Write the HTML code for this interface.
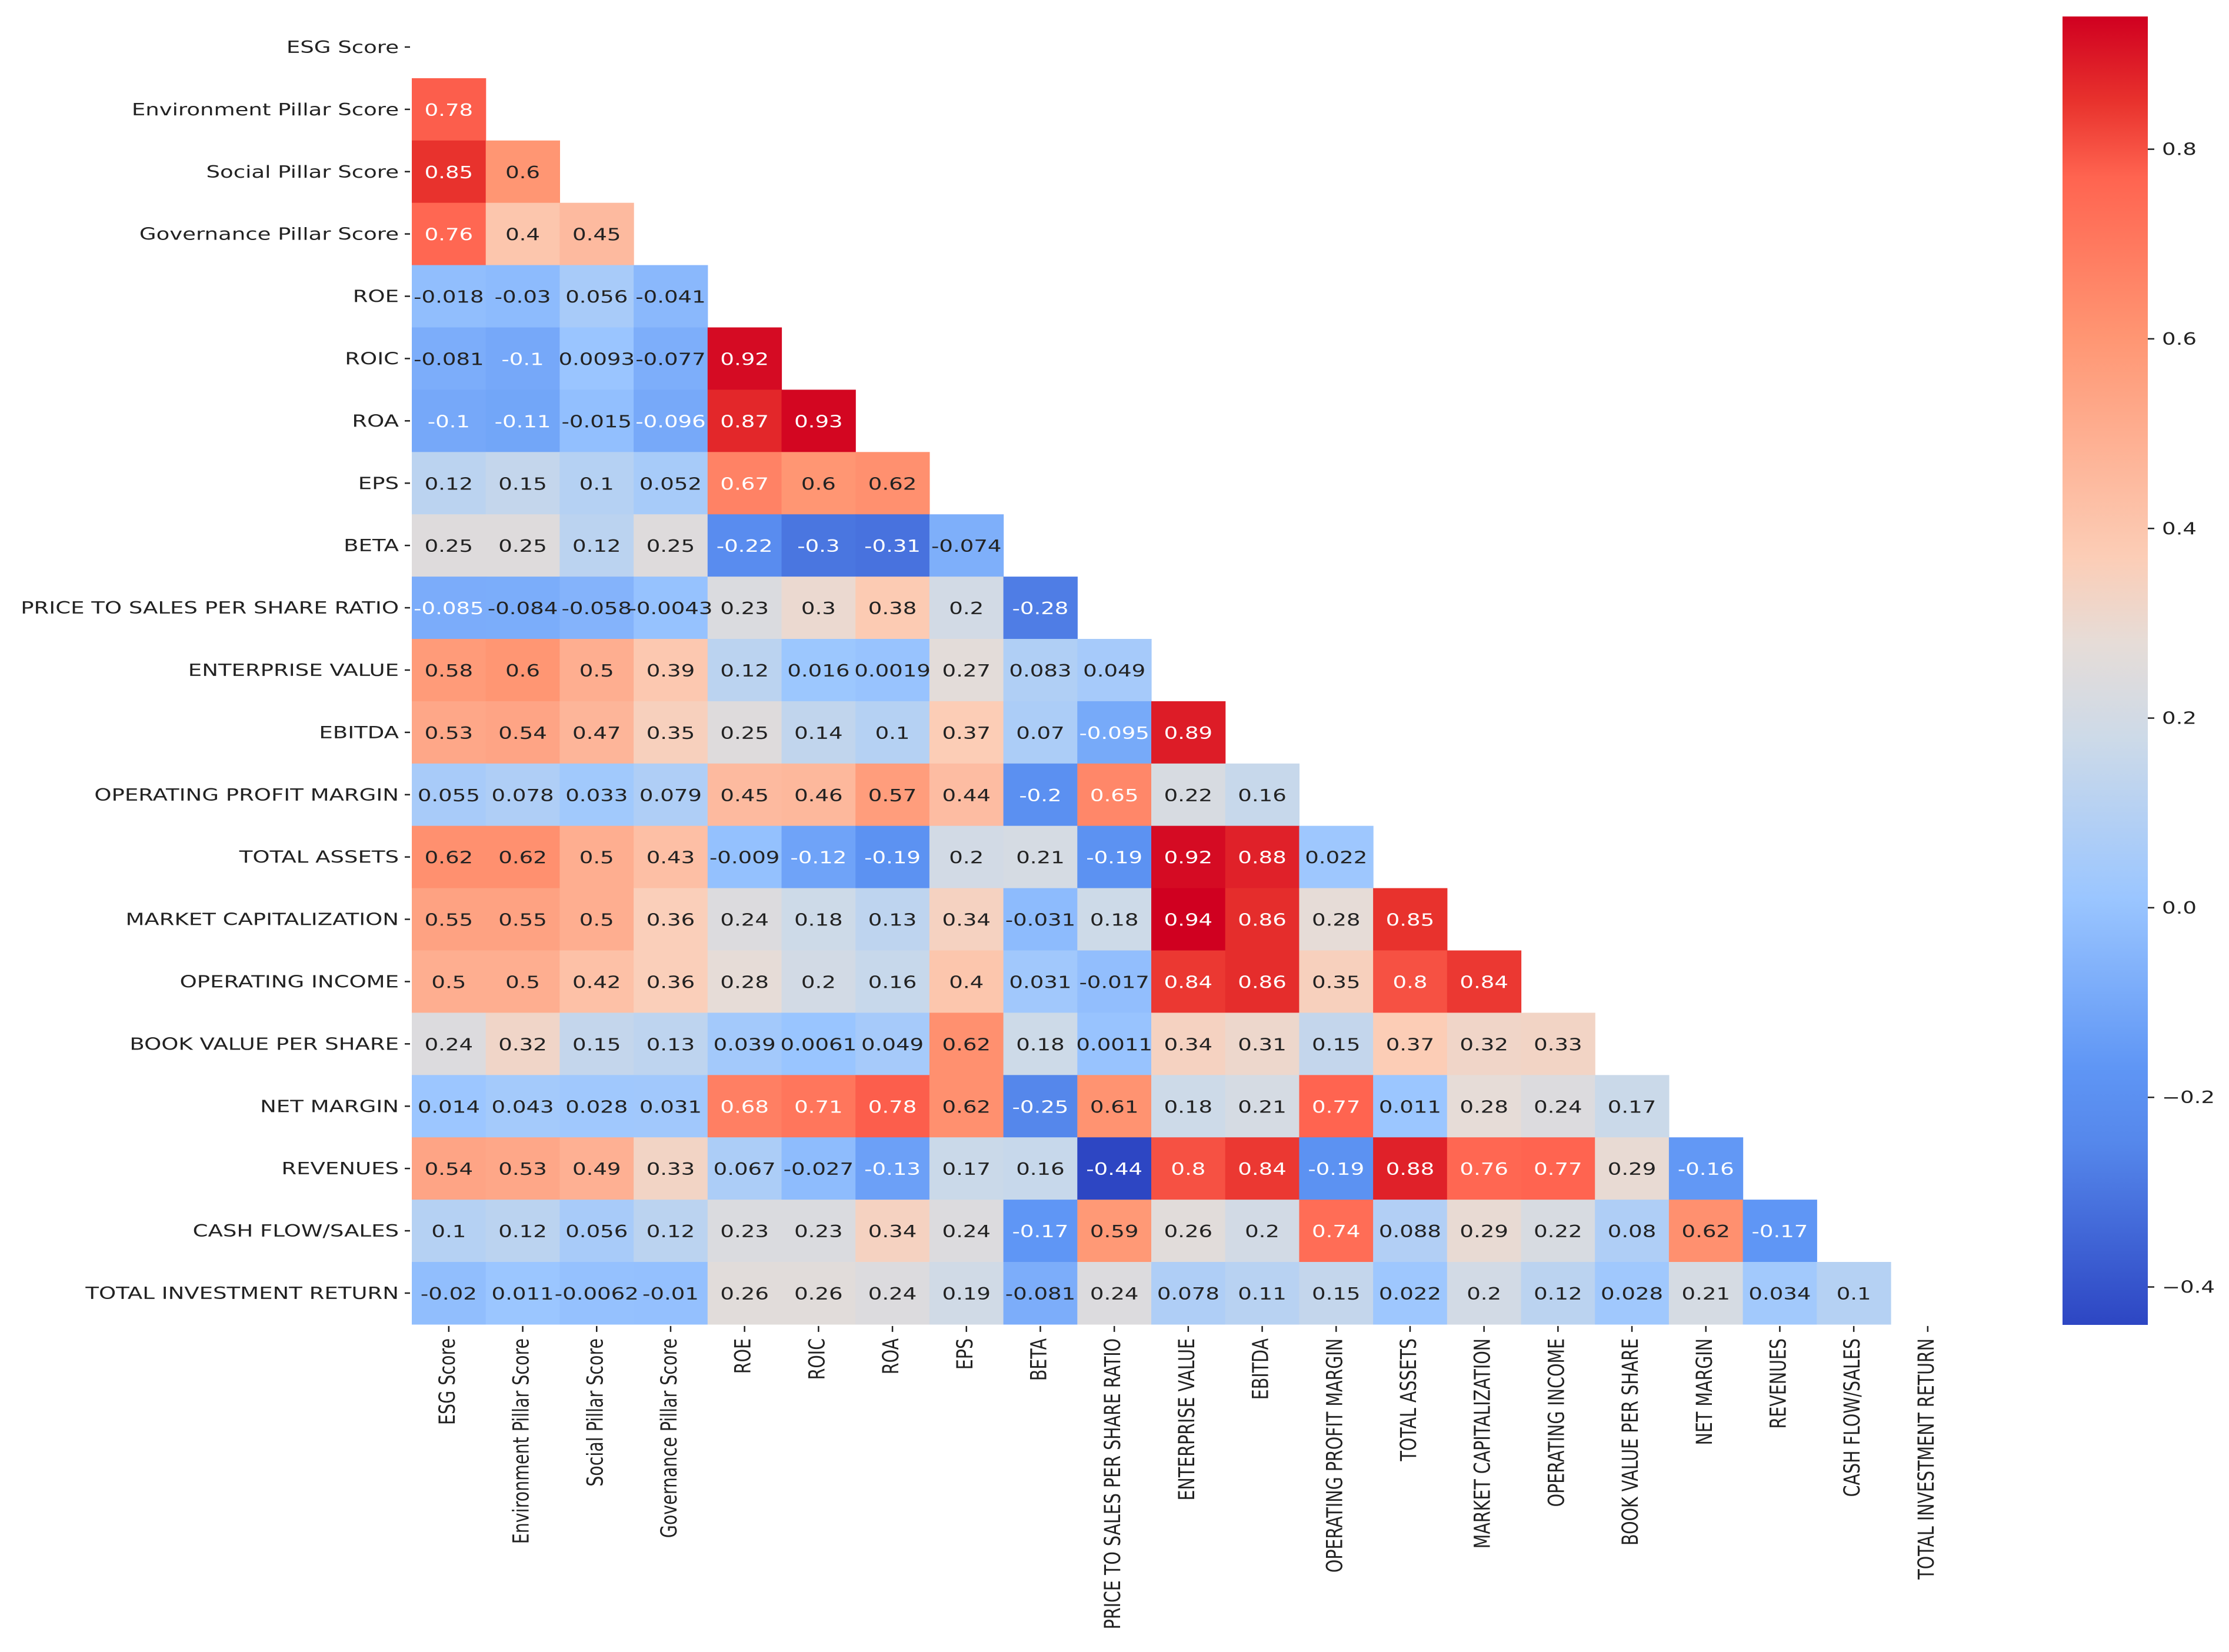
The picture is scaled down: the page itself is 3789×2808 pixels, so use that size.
<!DOCTYPE html>
<html><head><meta charset="utf-8"><style>
html,body{margin:0;padding:0;background:#fff;}
svg{display:block;font-family:"DejaVu Sans","Liberation Sans",sans-serif;}
</style></head><body>
<svg id="chart" width="3789" height="2808" viewBox="0 0 3789 2808" xmlns="http://www.w3.org/2000/svg">
<defs><linearGradient id="cbgrad" x1="0" y1="1" x2="0" y2="0"></linearGradient></defs>
<g id="cells"></g>
<g id="annots"></g>
<g id="ylabels"></g>
<g id="xlabels"></g>
<g id="cbar"></g>
</svg>
<script>
const labels = ["ESG Score","Environment Pillar Score","Social Pillar Score","Governance Pillar Score","ROE","ROIC","ROA","EPS","BETA","PRICE TO SALES PER SHARE RATIO","ENTERPRISE VALUE","EBITDA","OPERATING PROFIT MARGIN","TOTAL ASSETS","MARKET CAPITALIZATION","OPERATING INCOME","BOOK VALUE PER SHARE","NET MARGIN","REVENUES","CASH FLOW/SALES","TOTAL INVESTMENT RETURN"];
const row1 = [0.78];
const row2 = [0.85,0.6];
const row3 = [0.76,0.4,0.45];
const row4 = [-0.018,-0.03,0.056,-0.041];
const row5 = [-0.081,-0.1,0.0093,-0.077,0.92];
const row6 = [-0.1,-0.11,-0.015,-0.096,0.87,0.93];
const row7 = [0.12,0.15,0.1,0.052,0.67,0.6,0.62];
const row8 = [0.25,0.25,0.12,0.25,-0.22,-0.3,-0.31,-0.074];
const row9 = [-0.085,-0.084,-0.058,-0.0043,0.23,0.3,0.38,0.2,-0.28];
const row10 = [0.58,0.6,0.5,0.39,0.12,0.016,0.0019,0.27,0.083,0.049];
const row11 = [0.53,0.54,0.47,0.35,0.25,0.14,0.1,0.37,0.07,-0.095,0.89];
const row12 = [0.055,0.078,0.033,0.079,0.45,0.46,0.57,0.44,-0.2,0.65,0.22,0.16];
const row13 = [0.62,0.62,0.5,0.43,-0.009,-0.12,-0.19,0.2,0.21,-0.19,0.92,0.88,0.022];
const row14 = [0.55,0.55,0.5,0.36,0.24,0.18,0.13,0.34,-0.031,0.18,0.94,0.86,0.28,0.85];
const row15 = [0.5,0.5,0.42,0.36,0.28,0.2,0.16,0.4,0.031,-0.017,0.84,0.86,0.35,0.8,0.84];
const row16 = [0.24,0.32,0.15,0.13,0.039,0.0061,0.049,0.62,0.18,0.0011,0.34,0.31,0.15,0.37,0.32,0.33];
const row17 = [0.014,0.043,0.028,0.031,0.68,0.71,0.78,0.62,-0.25,0.61,0.18,0.21,0.77,0.011,0.28,0.24,0.17];
const row18 = [0.54,0.53,0.49,0.33,0.067,-0.027,-0.13,0.17,0.16,-0.44,0.8,0.84,-0.19,0.88,0.76,0.77,0.29,-0.16];
const row19 = [0.1,0.12,0.056,0.12,0.23,0.23,0.34,0.24,-0.17,0.59,0.26,0.2,0.74,0.088,0.29,0.22,0.08,0.62,-0.17];
const row20 = [-0.02,0.011,-0.0062,-0.01,0.26,0.26,0.24,0.19,-0.081,0.24,0.078,0.11,0.15,0.022,0.2,0.12,0.028,0.21,0.034,0.1];
const cbTicks = [0.8,0.6,0.4,0.2,0.0,-0.2,-0.4];
const vmin = -0.44, vmax = 0.94;

const rows = [[],row1,row2,row3,row4,row5,row6,row7,row8,row9,row10,row11,row12,row13,row14,row15,row16,row17,row18,row19,row20];
const NS = "http://www.w3.org/2000/svg";
const gx0 = 700, gy0 = 27, cw = 125.7, ch = 105.9;
const SX = 1.3;
function xPos(j){ return gx0 + j*cw; }
function yPos(i){ return gy0 + i*ch; }
const stops = [[0,[45,70,195]],[0.138,[85,135,235]],[0.197,[95,150,245]],[0.327,[155,198,255]],[0.449,[205,218,232]],[0.522,[230,220,215]],[0.587,[252,205,182]],[0.754,[255,150,115]],[0.877,[255,100,80]],[0.935,[232,50,45]],[1,[208,0,32]]];
function cmap(t){
  t = Math.max(0,Math.min(1,t));
  for(let k=1;k<stops.length;k++){
    if(t<=stops[k][0]){
      const a=stops[k-1],b=stops[k],f=(t-a[0])/(b[0]-a[0]);
      return a[1].map((c,i)=>Math.round(c+(b[1][i]-c)*f));
    }
  }
  return stops[stops.length-1][1];
}
function norm(v){ return (v-vmin)/(vmax-vmin); }
function lum(c){ const l=c.map(x=>{x/=255;return x<=0.03928?x/12.92:Math.pow((x+0.055)/1.055,2.4);}); return 0.2126*l[0]+0.7152*l[1]+0.0722*l[2]; }
function mk(tag, attrs, parent){ const e=document.createElementNS(NS,tag); for(const k in attrs) e.setAttribute(k,attrs[k]); parent.appendChild(e); return e; }
function fmt(v){ return String(v); }

const gCells=document.getElementById('cells'), gAnn=document.getElementById('annots');
const gY=document.getElementById('ylabels'), gX=document.getElementById('xlabels'), gCb=document.getElementById('cbar');

rows.forEach((r,i)=>{
  r.forEach((v,j)=>{
    const c=cmap(norm(v));
    const rect=mk('rect',{x:xPos(j),y:yPos(i),width:cw+0.6,height:ch+0.6,fill:`rgb(${c[0]},${c[1]},${c[2]})`},gCells);
    
    
    const g=mk('g',{transform:`translate(${xPos(j)+cw/2},${yPos(i)+ch/2+11}) scale(${SX},1)`},gAnn);
    const t=mk('text',{x:0,y:0,'text-anchor':'middle','font-size':28.5,fill:lum(c)>0.408?'#222222':'#ffffff'},g);
    t.textContent=fmt(v);
    
    
  });
});

labels.forEach((lab,i)=>{
  const cy=yPos(i)+ch/2;
  const tk=mk('line',{x1:gx0-12,x2:gx0-3,y1:cy,y2:cy,stroke:'#222','stroke-width':2.5},gY);
  
  
  const g=mk('g',{transform:`translate(${gx0-22},${cy+10}) scale(${SX},1)`},gY);
  const t=mk('text',{x:0,y:0,'text-anchor':'end','font-size':28.5,fill:'#222'},g);
  t.textContent=lab;
  
  
  const cx=xPos(i)+cw/2, by=yPos(21);
  const tk2=mk('line',{x1:cx,x2:cx,y1:by+3,y2:by+13,stroke:'#222','stroke-width':2.5},gX);
  
  
  const g2=mk('g',{transform:`translate(${cx+10},${by+24}) scale(${SX},1) rotate(-90)`},gX);
  const t2=mk('text',{x:0,y:0,'text-anchor':'end','font-size':28.5,fill:'#222'},g2);
  t2.textContent=lab;
  
  
});

const grad=document.getElementById('cbgrad');
stops.forEach(s=>{ mk('stop',{offset:s[0],'stop-color':`rgb(${s[1].join(',')})`},grad); });
const cbx=3506, cbw=145, cbTop=28, cbBot=2252;
const cbRect=mk('rect',{x:cbx,y:cbTop,width:cbw,height:cbBot-cbTop,fill:'url(#cbgrad)'},gCb);


function cbY(v){ return cbBot-(v-vmin)/(vmax-vmin)*(cbBot-cbTop); }
cbTicks.forEach(v=>{
  const y=cbY(v);
  const tk=mk('line',{x1:cbx+cbw,x2:cbx+cbw+11,y1:y,y2:y,stroke:'#222','stroke-width':2.5},gCb);
  
  
  const g=mk('g',{transform:`translate(${cbx+cbw+24},${y+10}) scale(${SX},1)`},gCb);
  const t=mk('text',{x:0,y:0,'font-size':28.5,fill:'#222'},g);
  t.textContent=(v<0?'\u2212':'')+Math.abs(v).toFixed(1);
  
  
});
</script>
</body></html>
